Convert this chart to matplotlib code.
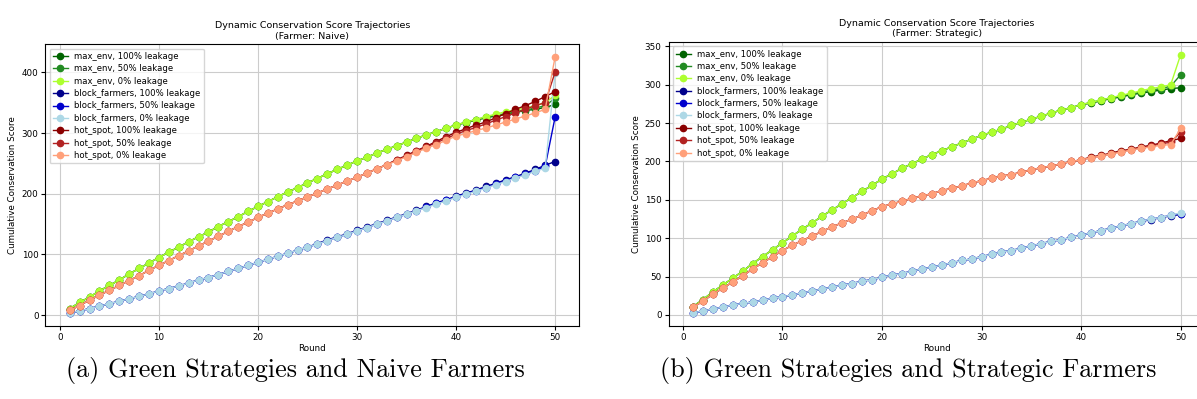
import matplotlib.pyplot as plt

rounds = list(range(1, 51))

# Farmer: Naive
naive_max_env_100 = [11, 21, 30, 40, 49, 58, 68, 77, 86, 95, 104, 112, 121, 129, 137, 146, 154, 162, 171, 179,
                     187, 195, 203, 210, 218, 225, 233, 240, 247, 254, 260, 267, 273, 279, 285, 291, 297, 302, 308, 313,
                     317, 321, 325, 328, 331, 334, 337, 339, 342, 347]
naive_max_env_50 = [11, 21, 30, 40, 49, 58, 68, 77, 86, 95, 104, 112, 121, 129, 137, 146, 154, 162, 171, 179,
                    187, 195, 203, 210, 218, 225, 233, 240, 247, 254, 260, 267, 273, 279, 285, 291, 297, 302, 308, 313,
                    318, 322, 326, 329, 332, 335, 338, 341, 345, 357]
naive_max_env_0 = [11, 21, 30, 40, 49, 58, 68, 77, 86, 95, 104, 112, 121, 129, 137, 146, 154, 162, 171, 179,
                   187, 195, 203, 210, 218, 225, 233, 240, 247, 254, 260, 267, 273, 279, 285, 291, 297, 302, 308, 313,
                   318, 322, 327, 331, 335, 338, 341, 345, 350, 362]
naive_block_100 = [4, 7, 11, 15, 19, 23, 27, 31, 35, 40, 44, 48, 53, 58, 62, 67, 72, 77, 82, 87,
                   92, 97, 102, 107, 112, 118, 124, 129, 134, 140, 145, 151, 156, 162, 167, 173, 179, 185, 190, 196,
                   201, 206, 212, 217, 223, 228, 234, 240, 247, 253]
naive_block_50 = [4, 7, 11, 15, 19, 23, 27, 31, 35, 40, 44, 48, 53, 58, 62, 67, 72, 77, 82, 87,
                  92, 97, 102, 107, 112, 117, 123, 128, 133, 139, 144, 150, 155, 161, 166, 172, 178, 184, 189, 195,
                  200, 205, 210, 216, 221, 227, 232, 238, 245, 326]
naive_block_0 = [4, 7, 11, 15, 19, 23, 27, 31, 35, 40, 44, 48, 53, 58, 62, 67, 72, 77, 82, 87,
                 92, 97, 102, 107, 112, 117, 123, 128, 133, 139, 144, 150, 155, 161, 166, 172, 177, 183, 188, 194,
                 199, 204, 209, 215, 220, 226, 231, 237, 242, 398]
naive_hot_100 = [8, 16, 25, 33, 41, 49, 57, 65, 74, 82, 90, 98, 106, 114, 122, 130, 138, 146, 153, 161,
                 168, 175, 182, 188, 195, 201, 208, 214, 221, 227, 234, 241, 248, 256, 263, 271, 278, 286, 294, 301,
                 307, 313, 318, 325, 332, 339, 345, 352, 360, 368]
naive_hot_50 = [8, 16, 25, 33, 41, 49, 57, 65, 74, 82, 90, 98, 106, 114, 122, 130, 138, 146, 153, 161,
                168, 175, 182, 188, 195, 201, 208, 214, 221, 227, 234, 241, 248, 255, 262, 270, 277, 284, 291, 298,
                304, 309, 315, 321, 327, 333, 339, 345, 350, 400]
naive_hot_0 = [8, 16, 25, 33, 41, 49, 57, 65, 74, 82, 90, 98, 106, 114, 122, 130, 138, 146, 153, 161,
               168, 175, 182, 188, 195, 201, 208, 214, 221, 227, 234, 241, 248, 254, 261, 268, 275, 281, 288, 295,
               299, 304, 308, 313, 318, 323, 328, 333, 339, 425]

# Farmer: Strategic
strat_max_env_100 = [11, 20, 30, 39, 48, 57, 67, 76, 85, 94, 103, 112, 120, 129, 137, 145, 153, 161, 169, 177,
                     184, 191, 197, 203, 209, 214, 219, 224, 229, 234, 238, 242, 247, 251, 255, 259, 263, 267, 270, 274,
                     276, 279, 282, 284, 287, 289, 291, 293, 295, 296]
strat_max_env_50 = [11, 20, 30, 39, 48, 57, 67, 76, 85, 94, 103, 112, 120, 129, 137, 145, 153, 161, 169, 177,
                    184, 191, 197, 203, 209, 214, 219, 224, 229, 234, 238, 242, 247, 251, 255, 259, 263, 267, 270, 274,
                    277, 280, 283, 285, 288, 290, 293, 295, 298, 313]
strat_max_env_0 = [11, 20, 30, 39, 48, 57, 67, 76, 85, 94, 103, 112, 120, 129, 137, 145, 153, 161, 169, 177,
                   184, 191, 197, 203, 209, 214, 219, 224, 229, 234, 238, 242, 247, 251, 255, 259, 263, 267, 270, 274,
                   277, 280, 283, 286, 289, 292, 295, 297, 300, 339]
strat_block_100 = [3, 5, 8, 10, 13, 15, 17, 19, 22, 24, 26, 29, 31, 34, 36, 39, 41, 44, 46, 49,
                   52, 54, 57, 60, 62, 65, 68, 71, 73, 76, 79, 82, 84, 87, 90, 93, 96, 98, 101, 104,
                   107, 110, 113, 116, 119, 122, 124, 127, 129, 131]
strat_block_50 = [3, 5, 8, 10, 13, 15, 17, 19, 22, 24, 26, 29, 31, 34, 36, 39, 41, 44, 46, 49,
                  52, 54, 57, 60, 62, 65, 68, 71, 73, 76, 79, 82, 84, 87, 90, 93, 96, 98, 101, 104,
                  107, 110, 113, 116, 119, 122, 125, 127, 130, 132]
strat_block_0 = [3, 5, 8, 10, 13, 15, 17, 19, 22, 24, 26, 29, 31, 34, 36, 39, 41, 44, 46, 49,
                 52, 54, 57, 60, 62, 65, 68, 71, 73, 76, 79, 82, 84, 87, 90, 93, 96, 98, 101, 104,
                 107, 110, 113, 116, 119, 122, 125, 127, 130, 133]
strat_hot_100 = [10, 18, 27, 35, 43, 51, 60, 68, 76, 84, 91, 97, 103, 109, 115, 120, 125, 130, 136, 141,
                 145, 148, 152, 155, 158, 162, 165, 168, 172, 175, 178, 181, 183, 186, 189, 192, 194, 197, 200, 202,
                 206, 208, 211, 214, 216, 219, 221, 224, 227, 230]
strat_hot_50 = [10, 18, 27, 35, 43, 51, 60, 68, 76, 84, 91, 97, 103, 109, 115, 120, 125, 130, 136, 141,
                145, 148, 152, 155, 158, 162, 165, 168, 172, 175, 178, 181, 183, 186, 189, 192, 194, 197, 200, 202,
                205, 207, 210, 213, 215, 218, 220, 223, 225, 238]
strat_hot_0 = [10, 18, 27, 35, 43, 51, 60, 68, 76, 84, 91, 97, 103, 109, 115, 120, 125, 130, 136, 141,
               145, 148, 152, 155, 158, 162, 165, 168, 172, 175, 178, 181, 183, 186, 189, 192, 194, 197, 200, 202,
               205, 207, 210, 212, 215, 217, 219, 221, 222, 243]

labels = ['max_env, 100% leakage', 'max_env, 50% leakage', 'max_env, 0% leakage',
          'block_farmers, 100% leakage', 'block_farmers, 50% leakage', 'block_farmers, 0% leakage',
          'hot_spot, 100% leakage', 'hot_spot, 50% leakage', 'hot_spot, 0% leakage']
colors = ['darkgreen', 'forestgreen', 'greenyellow',
          'darkblue', 'mediumblue', 'lightblue',
          'darkred', 'firebrick', 'lightsalmon']

naive = [naive_max_env_100, naive_max_env_50, naive_max_env_0,
         naive_block_100, naive_block_50, naive_block_0,
         naive_hot_100, naive_hot_50, naive_hot_0]
strategic = [strat_max_env_100, strat_max_env_50, strat_max_env_0,
             strat_block_100, strat_block_50, strat_block_0,
             strat_hot_100, strat_hot_50, strat_hot_0]

fs = 6.3
fig = plt.figure(figsize=(11.97, 3.99), dpi=100)
ax1 = fig.add_axes([0.038, 0.184, 0.446, 0.705])
ax2 = fig.add_axes([0.5585, 0.184, 0.4482, 0.711])

for ax, data, farmer in [(ax1, naive, 'Naive'), (ax2, strategic, 'Strategic')]:
    for ys, lab, c in zip(data, labels, colors):
        ax.plot(rounds, ys, marker='o', markersize=4.5, linewidth=1.0, color=c, label=lab)
    ax.set_title('Dynamic Conservation Score Trajectories\n(Farmer: %s)' % farmer, fontsize=fs + 0.5, pad=4)
    ax.set_xlabel('Round', fontsize=fs, labelpad=2)
    ax.set_ylabel('Cumulative Conservation Score', fontsize=fs, labelpad=3)
    ax.tick_params(labelsize=fs, length=3, pad=2)
    ax.grid(True, color='#cccccc', linewidth=0.8)
    ax.legend(loc='upper left', fontsize=6.1, handlelength=1.7, labelspacing=0.4, borderpad=0.4)

fig.text(0.2465, 0.072, '(a) Green Strategies and Naive Farmers', family='cmr10', fontsize=18.8, ha='center', va='center')
fig.text(0.7585, 0.072, '(b) Green Strategies and Strategic Farmers', family='cmr10', fontsize=18.8, ha='center', va='center')

fig.savefig('out.png', dpi=100)
